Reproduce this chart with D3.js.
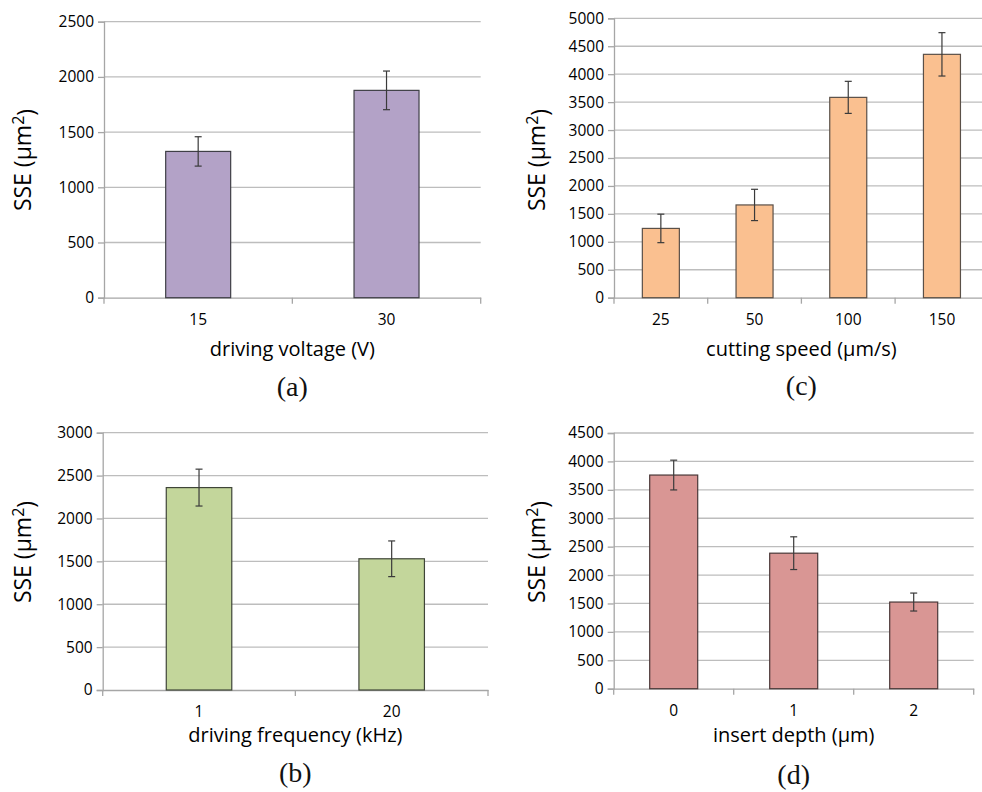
<!DOCTYPE html>
<html>
<head>
<meta charset="utf-8">
<script src="https://cdn.jsdelivr.net/npm/d3@7"></script>
<style>
    html, body { margin: 0; padding: 0; background: #ffffff; }
    svg { display: block; }
</style>
</head>
<body>
<div id="chart"></div>
<script>

// (a) driving voltage
let voltageCats = ["15", "30"];
let voltageSSE = [1325, 1878];
let voltageErr = [133, 175];

// (b) driving frequency
let frequencyCats = ["1", "20"];
let frequencySSE = [2360, 1530];
let frequencyErr = [215, 208];

// (c) cutting speed
let speedCats = ["25", "50", "100", "150"];
let speedSSE = [1240, 1660, 3585, 4355];
let speedErr = [255, 280, 287, 388];

// (d) insert depth
let depthCats = ["0", "1", "2"];
let depthSSE = [3760, 2385, 1525];
let depthErr = [262, 288, 158];

let panels = [
    { cats: voltageCats, vals: voltageSSE, errs: voltageErr, yMax: 2500, title: "driving voltage (V)", caption: "(a)",
      x0: 104, x1: 480.7, yTop: 21.7, yBot: 297.7, barRatio: 0.345, fill: "#b3a2c7", stroke: "#3f3f46",
      yTitleX: 23, yTitleY: 160, titleY: 348, captionY: 386 },
    { cats: frequencyCats, vals: frequencySSE, errs: frequencyErr, yMax: 3000, title: "driving frequency (kHz)", caption: "(b)",
      x0: 102.7, x1: 488, yTop: 432.7, yBot: 690, barRatio: 0.34, fill: "#c3d69b", stroke: "#3f4538",
      yTitleX: 23, yTitleY: 552, titleY: 734, captionY: 772 },
    { cats: speedCats, vals: speedSSE, errs: speedErr, yMax: 5000, title: "cutting speed (\u00b5m/s)", caption: "(c)",
      x0: 614, x1: 988.8, yTop: 18.3, yBot: 297.7, barRatio: 0.395, fill: "#fac090", stroke: "#5a5048",
      yTitleX: 537, yTitleY: 160, titleY: 348, captionY: 385 },
    { cats: depthCats, vals: depthSSE, errs: depthErr, yMax: 4500, title: "insert depth (\u00b5m)", caption: "(d)",
      x0: 613.7, x1: 973.7, yTop: 433, yBot: 688.7, barRatio: 0.40, fill: "#d99694", stroke: "#4a3838",
      yTitleX: 537, yTitleY: 552, titleY: 734, captionY: 774 }
];

let svg = d3.select("#chart").append("svg")
    .attr("width", 982)
    .attr("height", 792);

let sansFont = "'Open Sans', 'DejaVu Sans', sans-serif";
let serifFont = "'Liberation Serif', 'DejaVu Serif', serif";

panels.forEach(drawPanel);

function drawPanel(p) {

    let g = svg.append("g");

    let x = d3.scaleBand()
        .domain(p.cats)
        .range([p.x0, p.x1])
        .padding(0);

    let y = d3.scaleLinear()
        .domain([0, p.yMax])
        .range([p.yBot, p.yTop]);

    let yTicks = d3.range(0, p.yMax + 1, 500);

    // gridlines
    g.append("g")
        .selectAll("line")
        .data(yTicks.filter(d => d > 0))
        .join("line")
        .attr("x1", p.x0)
        .attr("x2", p.x1)
        .attr("y1", d => y(d))
        .attr("y2", d => y(d))
        .attr("stroke", "#bdbdbd")
        .attr("stroke-width", 1.3);

    // y axis
    let yAxis = g.append("g")
        .attr("transform", `translate(${p.x0},0)`)
        .call(d3.axisLeft(y).tickValues(yTicks).tickSize(6).tickPadding(4).tickFormat(d3.format("d")));
    yAxis.select(".domain").attr("stroke", "#a6a6a6").attr("stroke-width", 1.3);
    yAxis.selectAll(".tick line").attr("stroke", "#a6a6a6").attr("stroke-width", 1.3);
    yAxis.selectAll(".tick text")
        .attr("fill", "#000")
        .style("font-family", sansFont)
        .style("font-size", "15.5px");

    // x axis
    let xAxis = g.append("g")
        .attr("transform", `translate(0,${p.yBot})`)
        .call(d3.axisBottom(x).tickSize(0).tickPadding(16));
    xAxis.select(".domain").attr("stroke", "#a6a6a6").attr("stroke-width", 1.3);
    xAxis.selectAll(".tick text")
        .attr("fill", "#000")
        .style("font-family", sansFont)
        .style("font-size", "15.5px");

    // category boundary ticks
    let bounds = p.cats.map(c => x(c)).concat([p.x1]);
    g.append("g")
        .selectAll("line")
        .data(bounds)
        .join("line")
        .attr("x1", d => d)
        .attr("x2", d => d)
        .attr("y1", p.yBot)
        .attr("y2", p.yBot + 6)
        .attr("stroke", "#a6a6a6")
        .attr("stroke-width", 1.3);

    let bw = x.bandwidth() * p.barRatio;

    // bars
    g.append("g")
        .selectAll("rect")
        .data(p.cats)
        .join("rect")
        .attr("x", d => x(d) + (x.bandwidth() - bw) / 2)
        .attr("y", (d, i) => y(p.vals[i]))
        .attr("width", bw)
        .attr("height", (d, i) => y(0) - y(p.vals[i]))
        .attr("fill", p.fill)
        .attr("stroke", p.stroke)
        .attr("stroke-width", 1.2);

    // error bars
    let eg = g.append("g")
        .attr("stroke", "#3a3a3a")
        .attr("stroke-width", 1.2);

    p.cats.forEach((c, i) => {
        let cx = x(c) + x.bandwidth() / 2;
        let top = y(p.vals[i] + p.errs[i]);
        let bot = y(p.vals[i] - p.errs[i]);
        eg.append("line").attr("x1", cx).attr("x2", cx).attr("y1", top).attr("y2", bot);
        eg.append("line").attr("x1", cx - 3.5).attr("x2", cx + 3.5).attr("y1", top).attr("y2", top);
        eg.append("line").attr("x1", cx - 3.5).attr("x2", cx + 3.5).attr("y1", bot).attr("y2", bot);
    });

    // axis title
    g.append("text")
        .attr("x", (p.x0 + p.x1) / 2)
        .attr("y", p.titleY)
        .attr("text-anchor", "middle")
        .attr("dominant-baseline", "central")
        .attr("fill", "#000")
        .style("font-family", sansFont)
        .style("font-size", "20px")
        .text(p.title);

    // y title with real superscript
    let yt = g.append("text")
        .attr("transform", `translate(${p.yTitleX + 8},${p.yTitleY}) rotate(-90)`)
        .attr("text-anchor", "middle")
        .attr("fill", "#000")
        .style("font-family", sansFont)
        .style("font-size", "23px");
    yt.append("tspan").text("SSE (\u00b5m");
    yt.append("tspan").attr("dy", "-0.42em").style("font-size", "16px").text("2");
    yt.append("tspan").attr("dy", "0.42em").text(")");

    // panel caption
    g.append("text")
        .attr("x", (p.x0 + p.x1) / 2)
        .attr("y", p.captionY)
        .attr("text-anchor", "middle")
        .attr("dominant-baseline", "central")
        .attr("fill", "#111")
        .style("font-family", serifFont)
        .style("font-size", "28px")
        .text(p.caption);
}

</script>
</body>
</html>
